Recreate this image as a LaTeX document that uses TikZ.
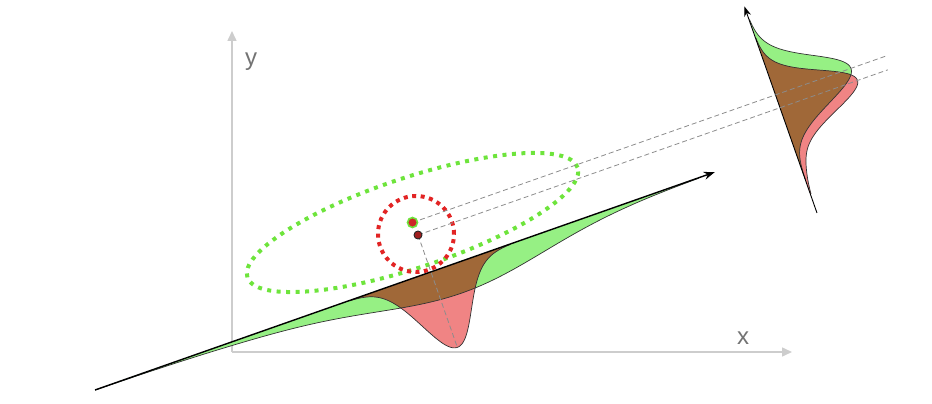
\documentclass[tikz,border=0pt]{standalone}
\usepackage{fontspec}
\newfontfamily\axisfont{Liberation Sans}
\usetikzlibrary{calc, positioning}
\usetikzlibrary{arrows.meta}

\definecolor{axisgray}{RGB}{205,205,205}
\definecolor{labelgray}{RGB}{115,115,115}
\definecolor{greenfill}{RGB}{150,240,132}
\definecolor{redfill}{RGB}{240,132,132}
\definecolor{brownfill}{RGB}{160,104,56}
\definecolor{dotgreen}{RGB}{110,228,60}
\definecolor{dotred}{RGB}{226,36,36}
\definecolor{meanred}{RGB}{205,40,40}
\definecolor{meandark}{RGB}{160,30,30}

\tikzset{
  axisline/.style={draw=axisgray, line width=1.5pt, -{Triangle[length=10pt, width=9pt]}},
  axislabel/.style={font=\axisfont\fontsize{24}{24}\selectfont, text=labelgray, inner sep=0pt, anchor=base},
  pdfcurve/.style={draw=black!80, line width=0.7pt},
  ellipsedots/.style={draw=dotgreen, line width=4pt, dash pattern=on 4pt off 5.5pt},
  circledots/.style={draw=dotred, line width=4pt, dash pattern=on 4pt off 4.5pt},
  projline/.style={draw=black!45, line width=0.8pt, dash pattern=on 5pt off 3pt},
  meanA/.style={circle, fill=meanred, draw=dotgreen, line width=1.6pt, minimum size=10pt, inner sep=0pt},
  meanB/.style={circle, fill=meandark, draw=black!85, line width=0.9pt, minimum size=8pt, inner sep=0pt},
}

\begin{document}
\begin{tikzpicture}[x=1pt, y=1pt,
  declare function={
    gb(\x)=30*exp(-0.5*((\x-380)/90)*((\x-380)/90))+3*exp(-0.5*((\x-190)/80)*((\x-190)/80));
    rb(\x)=80*exp(-0.5*((\x-356)/26)*((\x-356)/26));
    gr(\x)=80*exp(-0.5*((\x-125)/25)*((\x-125)/25));
    rr(\x)=82*exp(-0.5*((\x-112)/22)*((\x-112)/22))+5*exp(-0.5*((\x-60)/20)*((\x-60)/20));
  }]
\def\angB{19.37}
\def\angR{109.37}
\useasboundingbox (0,0) rectangle (932,404);

\coordinate (Org) at (232,52);
\coordinate (Xend) at (792,52);
\coordinate (Yend) at (232,373);
\coordinate (O) at (95,14);
\coordinate (E) at ($(O)+(\angB:657)$);
\coordinate (B) at (817,191);
\coordinate (T) at ($(B)+(\angR:219)$);
\coordinate (c1) at (412.5,181.5);
\coordinate (c2) at (418,169);
\coordinate (e1) at ($(c1)+(\angB:504)$);
\coordinate (e2) at ($(c2)+(\angB:498)$);

\draw[axisline] (Org) -- (Xend);
\draw[axisline] (Org) -- (Yend);
\node[axislabel] (ylab) at (251,338) {y};
\node[axislabel] (xlab) at (743,59) {x};

\draw[ellipsedots] (c1) ellipse[x radius=174, y radius=45, rotate=18.4];
\draw[circledots] (416,170) circle[radius=38];

\begin{scope}[shift={(O)}, rotate=\angB]
  \fill[greenfill] (0,0) -- plot[smooth, samples=160, domain=0:640] (\x,{-gb(\x)}) -- cycle;
  \fill[redfill] (270,0) -- plot[smooth, samples=100, domain=270:440] (\x,{-rb(\x)}) -- cycle;
  \begin{scope}
    \clip (0,0) -- plot[smooth, samples=160, domain=0:640] (\x,{-gb(\x)}) -- cycle;
    \fill[brownfill] (270,0) -- plot[smooth, samples=100, domain=270:440] (\x,{-rb(\x)}) -- cycle;
  \end{scope}
  \draw[pdfcurve] plot[smooth, samples=160, domain=0:640] (\x,{-gb(\x)});
  \draw[pdfcurve] plot[smooth, samples=100, domain=270:440] (\x,{-rb(\x)});
  \coordinate (rpeak) at (356,-80);
\end{scope}

\begin{scope}[shift={(B)}, rotate=\angR]
  \fill[greenfill] (35,0) -- plot[smooth, samples=100, domain=35:205] (\x,{-gr(\x)}) -- cycle;
  \fill[redfill] (20,0) -- plot[smooth, samples=100, domain=20:185] (\x,{-rr(\x)}) -- cycle;
  \begin{scope}
    \clip (35,0) -- plot[smooth, samples=100, domain=35:205] (\x,{-gr(\x)}) -- cycle;
    \fill[brownfill] (20,0) -- plot[smooth, samples=100, domain=20:185] (\x,{-rr(\x)}) -- cycle;
  \end{scope}
  \draw[pdfcurve] plot[smooth, samples=100, domain=35:205] (\x,{-gr(\x)});
  \draw[pdfcurve] plot[smooth, samples=100, domain=20:185] (\x,{-rr(\x)});
\end{scope}

\draw[-{Stealth[length=11pt, width=8pt]}, line width=1.4pt] (O) -- (E);
\draw[-{Stealth[length=10pt, width=7pt]}, line width=0.9pt] (B) -- (T);

\draw[projline] (c1) -- (e1);
\draw[projline] (c2) -- (e2);
\draw[projline] (c2) -- (rpeak);

\node[meanA] (m1) at (c1) {};
\node[meanB] (m2) at (c2) {};
\end{tikzpicture}
\end{document}
